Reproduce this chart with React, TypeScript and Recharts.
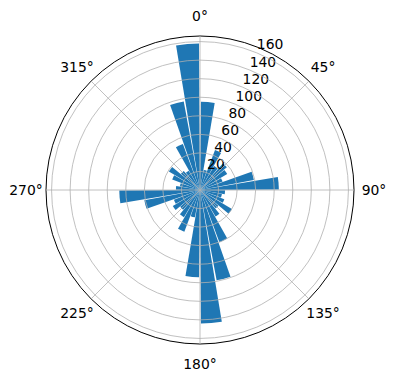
import React from 'react';
import {
  RadialBarChart,
  RadialBar,
  PolarAngleAxis,
  PolarRadiusAxis,
  PolarGrid,
} from 'recharts';

// 36 direction bins of 10 degrees (start angle, clockwise from north),
// listed in the order the category axis lays them out
const binStarts = [
  '350', '0', '10', '20', '30', '40', '50', '60', '70', '80',
  '90', '100', '110', '120', '130', '140', '150', '160', '170',
  '180', '190', '200', '210', '220', '230', '240', '250', '260',
  '270', '280', '290', '300', '310', '320', '330', '340',
];
const binCenters = [
  355, 5, 15, 25, 35, 45, 55, 65, 75, 85,
  95, 105, 115, 125, 135, 145, 155, 165, 175,
  185, 195, 205, 215, 225, 235, 245, 255, 265,
  275, 285, 295, 305, 315, 325, 335, 345,
];
const counts = [
  158, 95, 22, 46, 30, 38, 34, 26, 59, 85,
  27, 24, 28, 40, 26, 33, 60, 99, 144,
  94, 30, 48, 34, 28, 34, 30, 61, 87,
  26, 22, 32, 39, 27, 24, 53, 97,
];
const angleTicks = [0, 45, 90, 135, 180, 225, 270, 315];
const radiusTicks = [20, 40, 60, 80, 100, 120, 140, 160];
const radiusDomain = [0, 166];

const data = binStarts.map((b, i) => ({ bin: b, deg: binCenters[i], count: counts[i] }));

const FONT = 'DejaVu Sans, sans-serif';

const AngleTick = (props: any) => {
  const { x, y, payload } = props;
  return (
    <text
      x={x}
      y={y}
      textAnchor="middle"
      dominantBaseline="central"
      fontFamily={FONT}
      fontSize={13.9}
      fill="#000"
    >
      {`${payload.value}°`}
    </text>
  );
};

const RadiusTick = (props: any) => {
  const { x, y, payload } = props;
  return (
    <text
      x={x}
      y={y - 3.5}
      textAnchor="start"
      fontFamily={FONT}
      fontSize={13.9}
      fill="#000"
    >
      {payload.value}
    </text>
  );
};

export default function App() {
  return (
    <div style={{ position: 'absolute', left: 0, top: 0, width: 396, height: 380, background: '#fff' }}>
      <RadialBarChart
        width={396}
        height={380}
        data={data}
        cx={200}
        cy={190}
        innerRadius={0}
        outerRadius={154}
        startAngle={90}
        endAngle={-270}
        layout="centric"
        barCategoryGap="4%"
        margin={{ top: 0, right: 0, bottom: 0, left: 0 }}
      >
        <PolarAngleAxis
          angleAxisId="cat"
          dataKey="bin"
          type="category"
          tick={false}
          tickLine={false}
          axisLine={false}
        />
        <PolarAngleAxis
          angleAxisId="deg"
          dataKey="deg"
          type="number"
          domain={[0, 360]}
          ticks={angleTicks}
          allowDataOverflow
          tick={<AngleTick />}
          tickLine={false}
          tickSize={20}
          axisLine={{ stroke: '#000', strokeWidth: 1 }}
          axisLineType="circle"
        />
        <PolarRadiusAxis
          type="number"
          domain={radiusDomain}
          ticks={radiusTicks}
          angle={67.5}
          axisLine={false}
          tickLine={false}
          tick={<RadiusTick />}
          allowDataOverflow
        />
        <RadialBar
          angleAxisId="cat"
          dataKey="count"
          fill="#1f77b4"
          isAnimationActive={false}
        />
        <PolarGrid
          angleAxisId="deg"
          gridType="circle"
          stroke="#b0b0b0"
          strokeWidth={0.8}
          {...({ zIndex: 600 } as any)}
        />
      </RadialBarChart>
    </div>
  );
}
